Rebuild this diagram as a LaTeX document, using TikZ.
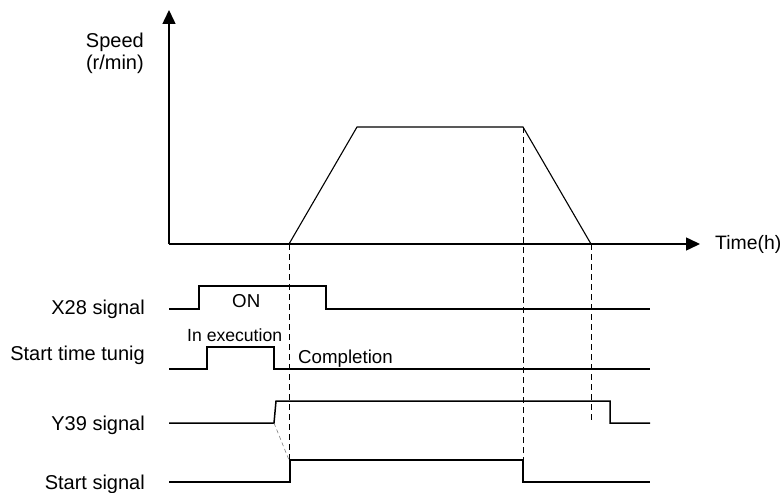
\documentclass[tikz,border=0pt]{standalone}
\usepackage{fontspec}
\setmainfont{Liberation Sans}
\usetikzlibrary{arrows.meta}

\begin{document}
\begin{tikzpicture}[
  x=1pt, y=-1pt,
  font=\fontsize{20}{22}\selectfont,
  ax/.style={line width=1.5pt, -{Triangle[length=14pt, width=13pt]}},
  sig/.style={line width=1.5pt},
  ramp/.style={line width=1.1pt, line join=miter},
  guide/.style={line width=0.9pt, dash pattern=on 6pt off 4pt},
  hint/.style={line width=0.6pt, gray, dash pattern=on 4pt off 3pt},
  lbl/.style={anchor=base east, inner sep=0pt},
  txt/.style={anchor=base west, inner sep=0pt, font=\fontsize{18.7}{22}\selectfont}
]
  \useasboundingbox (0,0) rectangle (783,492);

  \coordinate (o) at (169,244);
  \coordinate (ytip) at (169,10);
  \coordinate (xtip) at (700,244);
  \draw[ax] (o) -- (ytip);
  \draw[ax] (o) -- (xtip);
  \node[lbl, align=center] (speed) at (144,70) {Speed\\(r/min)};
  \node[txt, font=\fontsize{19.4}{22}\selectfont] (time) at (715,249) {Time(h)};

  \coordinate (r0) at (289,244);
  \coordinate (r1) at (357,127);
  \coordinate (r2) at (523,127);
  \coordinate (r3) at (591,244);
  \draw[ramp] (r0) -- (r1) -- (r2) -- (r3);

  \node[lbl] (x28) at (145,314) {X28 signal};
  \node[lbl] (stt) at (145,360) {Start time tunig};
  \node[lbl] (y39) at (145,430) {Y39 signal};
  \node[lbl] (st) at (145,489) {Start signal};

  \draw[sig] (169,309) -- (199,309) -- (199,286) -- (326,286) -- (326,309) -- (650,309);
  \draw[sig] (169,369) -- (207,369) -- (207,347) -- (274,347) -- (274,369) -- (650,369);
  \draw[sig] (169,423) -- (274,423) -- (276,401) -- (610,401) -- (610,423) -- (650,423);
  \draw[sig] (169,482) -- (290,482) -- (290,460) -- (523,460) -- (523,482) -- (650,482);

  \node[txt] (on) at (232,307) {ON};
  \node[txt, font=\fontsize{17.6}{22}\selectfont] (exe) at (187,341) {In execution};
  \node[txt] (done) at (298,363) {Completion};

  \draw[guide] (r0) -- (289,460);
  \draw[guide] (r2) -- (523,460);
  \draw[guide] (r3) -- (591,423);
  \draw[hint] (274,423) -- (289,460);
\end{tikzpicture}
\end{document}
